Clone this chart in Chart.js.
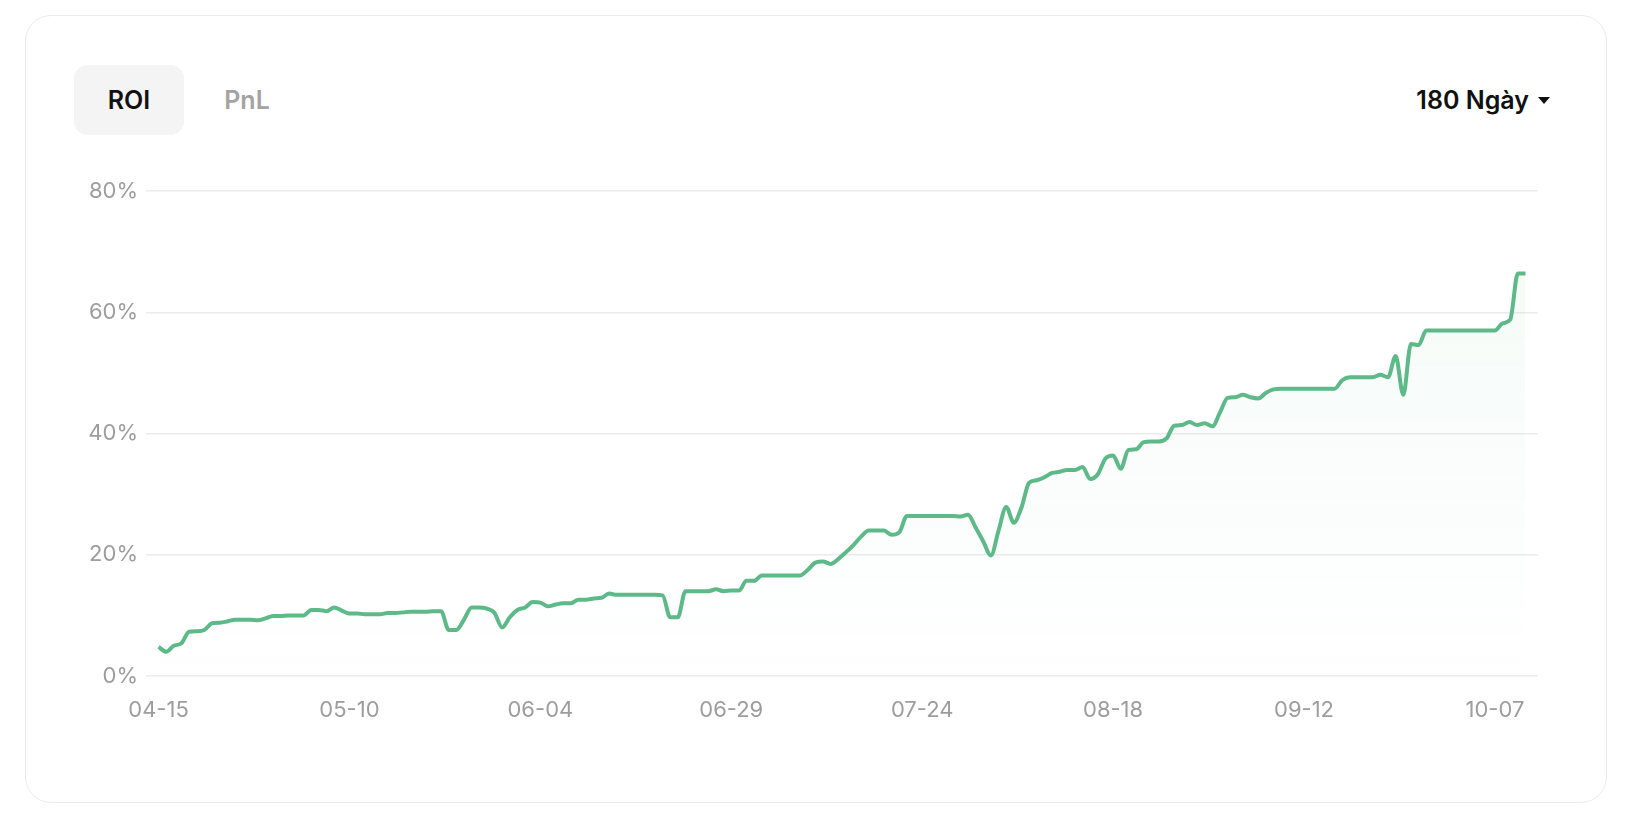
<!DOCTYPE html>
<html>
<head>
<meta charset="utf-8">
<script src="https://cdn.jsdelivr.net/npm/chart.js@4.4.1/dist/chart.umd.min.js"></script>
<style>
  body { margin: 0; width: 1634px; height: 820px; background: #fff; position: relative; overflow: hidden; font-family: Inter, "Noto Sans", sans-serif; }
  .card { position: absolute; left: 25px; top: 15px; width: 1582px; height: 788px; box-sizing: border-box; border: 1.5px solid #ebebeb; border-radius: 26px; }
  .tab { position: absolute; top: 65px; height: 70px; line-height: 70px; text-align: center; font-size: 25px; font-weight: 600; }
  .tab.active { left: 74px; width: 110px; background: #f4f4f4; border-radius: 14px; color: #111; }
  .tab.off { left: 208px; width: 78px; color: #a3a3a3; }
  .range { position: absolute; top: 65px; right: 84px; height: 70px; line-height: 70px; font-size: 25px; font-weight: 600; color: #111; }
  .range .caret { display: inline-block; width: 0; height: 0; margin-left: 9px; vertical-align: middle; border-left: 6px solid transparent; border-right: 6px solid transparent; border-top: 7px solid #111; position: relative; top: -2px; }
  .plot { position: absolute; left: 40px; top: 170px; width: 1520px; height: 556px; }
</style>
</head>
<body>
<div class="card"></div>
<div class="tab active">ROI</div>
<div class="tab off">PnL</div>
<div class="range">180 Ngày<span class="caret"></span></div>
<div class="plot"><canvas id="roiChart"></canvas></div>
<script>
// daily ROI (%) from 04-15 to 10-11, one value per day
const roi = [
  4.8, 4.0, 5.0, 5.4, 7.3, 7.4, 7.6, 8.7, 8.8, 9.0,
  9.3, 9.3, 9.3, 9.2, 9.5, 9.9, 9.9, 10.0, 10.0, 10.0,
  10.9, 10.9, 10.7, 11.3, 10.8, 10.3, 10.3, 10.2, 10.2, 10.2,
  10.4, 10.4, 10.5, 10.6, 10.6, 10.6, 10.7, 10.7, 7.6, 7.6,
  9.3, 11.3, 11.3, 11.1, 10.4, 8.0, 9.7, 10.9, 11.3, 12.2,
  12.1, 11.5, 11.8, 12.0, 12.0, 12.6, 12.6, 12.8, 12.9, 13.6,
  13.4, 13.4, 13.4, 13.4, 13.4, 13.4, 13.3, 9.7, 9.7, 14.0,
  14.0, 14.0, 14.0, 14.3, 14.0, 14.1, 14.1, 15.7, 15.7, 16.6,
  16.6, 16.6, 16.6, 16.6, 16.6, 17.5, 18.7, 18.9, 18.5, 19.3,
  20.4, 21.6, 23.0, 24.0, 24.0, 24.0, 23.3, 23.7, 26.4, 26.4,
  26.4, 26.4, 26.4, 26.4, 26.4, 26.3, 26.6, 24.5, 22.2, 19.9,
  24.0, 27.9, 25.3, 27.8, 31.9, 32.3, 32.8, 33.5, 33.7, 34.0,
  34.0, 34.5, 32.5, 33.3, 35.9, 36.4, 34.2, 37.3, 37.4, 38.6,
  38.7, 38.7, 39.2, 41.3, 41.4, 41.9, 41.4, 41.7, 41.2, 43.5,
  45.9, 46.0, 46.4, 46.0, 45.8, 46.7, 47.3, 47.4, 47.4, 47.4,
  47.4, 47.4, 47.4, 47.4, 47.4, 48.8, 49.3, 49.3, 49.3, 49.3,
  49.7, 49.3, 52.8, 46.4, 54.8, 54.6, 57.0, 57.0, 57.0, 57.0,
  57.0, 57.0, 57.0, 57.0, 57.0, 57.0, 58.2, 58.8, 66.4, 66.4
];

// x ticks: day index -> label
const tickDays = [0, 25, 50, 75, 100, 125, 150, 175];
const tickLabels = ['04-15', '05-10', '06-04', '06-29', '07-24', '08-18', '09-12', '10-07'];

const yTicks = [0, 20, 40, 60, 80];

const lineColor = 'rgb(93, 185, 135)';
const tickColor = '#9d9d9d';
const gridColor = '#ebebeb';

const points = roi.map((v, i) => ({ x: i, y: v }));

const fillGradient = (context) => {
  const { chart } = context;
  const area = chart.chartArea;
  if (!area) return 'rgba(93, 185, 135, 0.05)';
  const g = chart.ctx.createLinearGradient(0, area.top, 0, area.bottom);
  g.addColorStop(0, 'rgba(93, 185, 135, 0.07)');
  g.addColorStop(1, 'rgba(93, 185, 135, 0.0)');
  return g;
};

new Chart(document.getElementById('roiChart'), {
  type: 'line',
  data: {
    datasets: [{
      label: 'ROI',
      data: points,
      borderColor: lineColor,
      borderWidth: 4,
      backgroundColor: fillGradient,
      fill: 'origin',
      pointRadius: 0,
      pointHoverRadius: 0,
      cubicInterpolationMode: 'monotone',
    }],
  },
  options: {
    responsive: true,
    maintainAspectRatio: false,
    animation: false,
    layout: { padding: { top: 18, right: 22, bottom: 0, left: 0 } },
    plugins: {
      legend: { display: false },
      tooltip: { enabled: false },
    },
    scales: {
      x: {
        type: 'linear',
        min: -1.64,
        max: roi.length - 1 + 1.64,
        grid: { display: false },
        border: { display: false },
        afterBuildTicks: (axis) => {
          axis.ticks = tickDays.map(d => ({ value: d }));
        },
        afterFit: (axis) => { axis.height = 50; },
        ticks: {
          autoSkip: false,
          maxRotation: 0,
          padding: 13,
          color: tickColor,
          font: { family: 'Inter', size: 22 },
          callback: (value) => tickLabels[tickDays.indexOf(value)],
        },
      },
      y: {
        min: 0,
        max: 80,
        afterBuildTicks: (axis) => {
          axis.ticks = yTicks.map(v => ({ value: v }));
        },
        afterFit: (axis) => { axis.width = 106; },
        grid: { color: gridColor, lineWidth: 1.5, drawTicks: false },
        border: { display: false },
        ticks: {
          padding: 8,
          color: tickColor,
          font: { family: 'Inter', size: 22 },
          callback: (value) => value + '%',
        },
      },
    },
  },
});
</script>
</body>
</html>
